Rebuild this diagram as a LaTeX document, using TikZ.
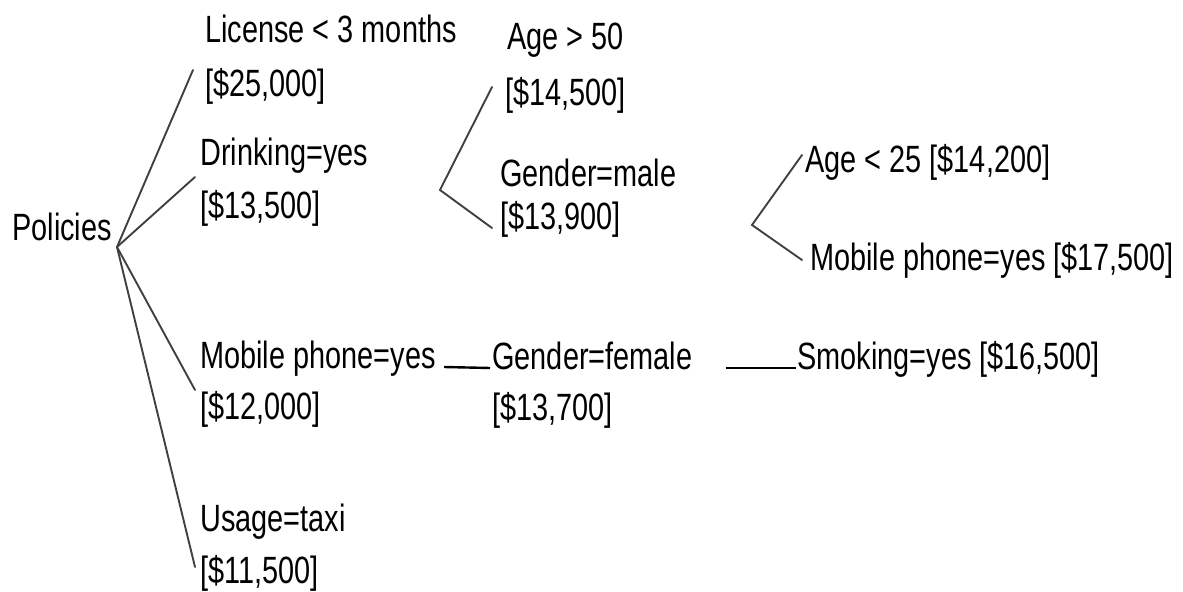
\documentclass[tikz,border=0pt]{standalone}
\usepackage{fontspec}
\setmainfont{Liberation Sans}[FakeStretch=0.76]
\usetikzlibrary{calc, positioning}
\tikzset{
  % Text labels
  lbl/.style={anchor=base west, inner sep=0pt, font=\fontsize{19}{22}\selectfont},
  % Slanted branches
  br/.style={draw=black!75, line width=0.95pt, line cap=round},
  % Straight links
  hl/.style={draw=black, line width=1.2pt},
}
\begin{document}
\begin{tikzpicture}[x=0.5pt, y=-0.5pt]
  \useasboundingbox (0,0) rectangle (1183,592);

  \node[lbl] (root) at (12,241) {Policies};
  \coordinate (fk1) at (117,247);

  \node[lbl] (lic1) at (205,43) {License < 3 months};
  \node[lbl] (lic2) at (205,97) {[\$25,000]};
  \node[lbl] (drk1) at (200,166) {Drinking=yes};
  \node[lbl] (drk2) at (200,219) {[\$13,500]};
  \node[lbl] (mob1) at (200,369) {Mobile phone=yes};
  \node[lbl] (mob2) at (200,420) {[\$12,000]};
  \node[lbl] (use1) at (200,532) {Usage=taxi};
  \node[lbl] (use2) at (200,583) {[\$11,500]};

  \coordinate (fk2) at (440,190);
  \node[lbl] (age1) at (507,50) {Age > 50};
  \node[lbl] (age2) at (505,106) {[\$14,500]};
  \node[lbl] (male1) at (500,187) {Gender=male};
  \node[lbl] (male2) at (500,230) {[\$13,900]};

  \node[lbl] (fem1) at (492,370) {Gender=female};
  \node[lbl] (fem2) at (492,421) {[\$13,700]};
  \node[lbl] (smk) at (797,370) {Smoking=yes [\$16,500]};

  \coordinate (fk3) at (752,225);
  \node[lbl] (yng) at (805,173) {Age < 25 [\$14,200]};
  \node[lbl] (mob3) at (810,271) {Mobile phone=yes [\$17,500]};

  % branches from the root
  \draw[br] (fk1) -- ($(lic2.base west)+(-12,-27)$);
  \draw[br] (fk1) -- ($(drk1.base west)+(-5,11)$);
  \draw[br] (fk1) -- ($(mob2.base west)+(-5,-30)$);
  \draw[br] (fk1) -- ($(use2.base west)+(-5,-16)$);

  % age / gender split
  \draw[br] ($(age2.base west)+(-13,-19)$) -- (fk2) -- ($(male2.base west)+(-8,-2)$);
  \draw[br] ($(yng.base west)+(-3,-18)$) -- (fk3) -- ($(mob3.base west)+(-8,-11)$);

  % straight links
  \draw[hl] ($(mob1.base east)+(8,-2)$) -- ($(fem1.base west)+(-2,-2)$);
  \draw[hl] ($(fem1.base east)+(33,-2)$) -- ($(smk.base west)+(-1,-2)$);
\end{tikzpicture}
\end{document}
